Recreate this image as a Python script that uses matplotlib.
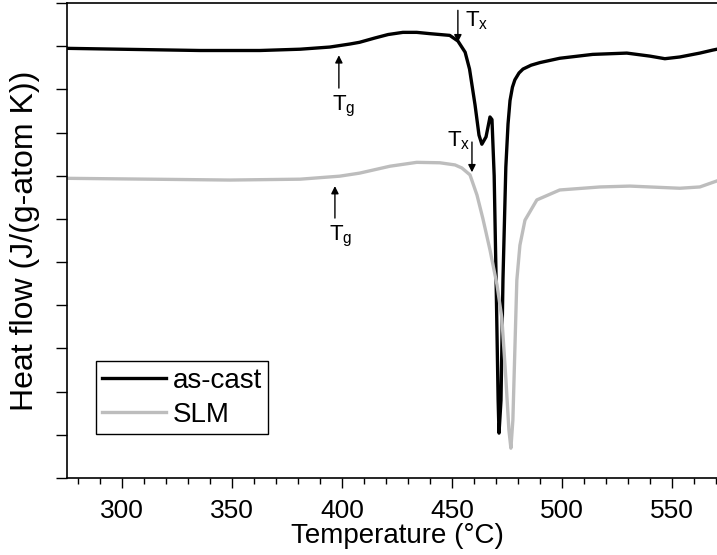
import matplotlib
matplotlib.use("Agg")
import matplotlib.pyplot as plt
from matplotlib.ticker import MultipleLocator, NullFormatter

plt.rcParams['font.family'] = ['Liberation Sans', 'DejaVu Sans']
plt.rcParams['mathtext.fontset'] = 'custom'
plt.rcParams['mathtext.rm'] = 'Liberation Sans'

# as-cast curve, temperature (°C) vs heat flow (arb. units, offset)
cast_T = [275, 299, 335.5, 362.7, 381, 394.5, 403.6, 408, 415, 421, 427.7, 434,
          440, 449, 452.7, 456, 458, 460.5, 462.3, 463.6, 465.5, 467.3, 468.2,
          469.2, 470, 471, 471.4, 472.3, 473.2, 474.5, 475.5, 476.4, 477.5,
          478.6, 480.5, 482.3, 486, 490, 499, 514, 529.5, 540, 546.8, 553.6,
          562.7, 568.6, 570.5]
cast_hf = [9.95, 9.93, 9.90, 9.90, 9.93, 9.98, 10.05, 10.09, 10.19, 10.27, 10.32,
           10.32, 10.29, 10.25, 10.12, 9.86, 9.47, 8.64, 7.94, 7.73, 7.90, 8.36,
           8.30, 7.0, 4.8, 1.8, 1.04, 1.8, 4.6, 7.2, 8.2, 8.74, 9.05, 9.22, 9.38,
           9.47, 9.56, 9.62, 9.72, 9.81, 9.84, 9.77, 9.71, 9.75, 9.84, 9.91, 9.93]

# SLM curve
slm_T = [275, 312.7, 349, 381, 399, 408, 421.8, 434, 444.5, 451.4, 454.5, 458.2,
         461.4, 464.1, 467.3, 470.5, 472.7, 474.5, 475.9, 476.8, 477.7, 478.6,
         479.5, 480.9, 483.2, 488.6, 499, 517.3, 530.9, 553.6, 562.7, 570.5]
slm_hf = [6.94, 6.92, 6.90, 6.92, 6.99, 7.06, 7.22, 7.31, 7.30, 7.25, 7.18, 7.02,
          6.55, 6.0, 5.28, 4.47, 3.7, 2.31, 1.11, 0.69, 1.34, 2.96, 4.58, 5.39,
          5.97, 6.44, 6.67, 6.74, 6.76, 6.71, 6.74, 6.88]

fig = plt.figure(figsize=(7.17, 5.55), dpi=100)
ax = fig.add_axes([67 / 717, 1 - 478 / 555, 650 / 717, 475 / 555])

ax.plot(cast_T, cast_hf, color='black', lw=2.4, label='as-cast')
ax.plot(slm_T, slm_hf, color='#bdbdbd', lw=2.4, label='SLM')

ax.set_xlim(275, 570.5)
ax.set_ylim(0, 11)
ax.xaxis.set_major_locator(MultipleLocator(50))
ax.xaxis.set_minor_locator(MultipleLocator(10))
ax.yaxis.set_major_locator(MultipleLocator(1))
ax.yaxis.set_major_formatter(NullFormatter())
ax.tick_params(axis='x', which='major', length=7, width=1, labelsize=19, pad=8)
ax.tick_params(axis='x', which='minor', length=4, width=1)
ax.tick_params(axis='y', which='major', length=8, width=1)
ax.spines['right'].set_visible(False)
for s in ['left', 'bottom', 'top']:
    ax.spines[s].set_linewidth(1.2)

ax.set_xlabel('Temperature (°C)', fontsize=20)
ax.xaxis.set_label_coords(0.509, -0.095)
ax.set_ylabel('Heat flow (J/(g-atom K))', fontsize=23)
ax.yaxis.set_label_coords(-0.0415, 0.5)

arrow = dict(arrowstyle='-|>', color='black', lw=1, mutation_scale=11,
             shrinkA=0, shrinkB=0)
# Tg markers
ax.annotate('', xy=(398.6, 9.79), xytext=(398.6, 9.03), arrowprops=arrow)
ax.text(401, 8.6, 'T$_\\mathregular{g}$', fontsize=16, ha='center', va='center')
ax.annotate('', xy=(396.8, 6.76), xytext=(396.8, 6.02), arrowprops=arrow)
ax.text(399.5, 5.6, 'T$_\\mathregular{g}$', fontsize=16, ha='center', va='center')
# Tx markers
ax.annotate('', xy=(452.7, 10.09), xytext=(452.7, 10.83), arrowprops=arrow)
ax.text(455.8, 10.6, 'T$_\\mathregular{x}$', fontsize=16, ha='left', va='center')
ax.annotate('', xy=(459.1, 7.08), xytext=(459.1, 7.78), arrowprops=arrow)
ax.text(458.2, 7.8, 'T$_\\mathregular{x}$', fontsize=16, ha='right', va='center')

leg = ax.legend(loc='lower left', bbox_to_anchor=(0.0446, 0.0926), fontsize=20,
                frameon=True, fancybox=False, edgecolor='black', framealpha=1,
                borderaxespad=0, borderpad=0.22, handlelength=2.3,
                handletextpad=0.25, labelspacing=0.3)
leg.get_frame().set_linewidth(1)

fig.savefig('out.png', dpi=100)
